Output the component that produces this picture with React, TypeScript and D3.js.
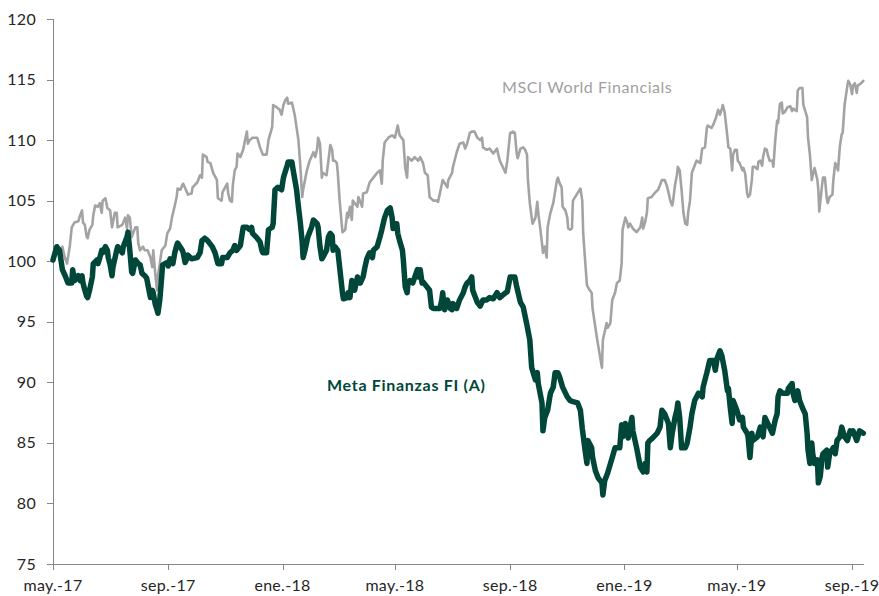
import React from 'react';
import * as d3 from 'd3';

// Series as [days since 2017-05-01, index value]
const msciSeries: [number, number][] = [
  [0,100.1],[4,100.9],[7,100.7],[10,101.2],[13,100.2],[15,99.8],[18,101.3],[20,102.8],[23,103.2],[27,103.3],
  [29,103.8],[31,104.2],[32,103.2],[34,103.0],[36,102.0],[37,101.9],[39,102.6],[42,103.0],[43,103.8],[45,104.6],
  [48,104.5],[50,104.8],[52,104.0],[53,105.0],[56,105.2],[58,104.4],[61,104.2],[63,102.8],[66,104.0],[68,104.0],
  [69,102.8],[74,103.0],[77,103.6],[79,102.7],[80,103.8],[82,103.6],[84,102.0],[88,102.8],[90,102.8],[91,101.5],
  [93,100.9],[96,101.2],[98,100.9],[101,100.9],[104,100.3],[106,99.5],[107,100.9],[109,99.1],[111,97.6],[112,98.8],
  [114,99.8],[116,100.9],[120,101.3],[122,102.3],[125,102.7],[127,103.6],[130,104.6],[132,105.3],[133,106.0],[136,105.9],
  [138,106.3],[139,106.4],[143,105.7],[144,105.5],[148,105.6],[149,106.1],[154,106.5],[157,107.1],[159,106.9],[160,108.8],
  [164,108.6],[165,108.2],[168,108.1],[171,107.3],[175,106.7],[176,105.2],[180,105.0],[181,105.7],[186,106.4],[187,105.6],
  [189,105.0],[191,104.9],[192,106.3],[194,107.5],[196,107.8],[197,108.9],[200,108.6],[203,109.2],[205,110.0],[207,110.7],
  [208,109.7],[210,110.0],[213,110.2],[218,110.2],[221,109.4],[224,108.8],[228,108.8],[230,110.0],[234,111.1],[235,112.9],
  [239,112.7],[242,112.5],[244,112.1],[246,112.9],[248,113.3],[250,113.5],[251,113.0],[255,113.1],[258,112.1],[262,110.0],
  [264,107.9],[266,105.3],[267,105.9],[271,107.5],[274,108.3],[278,109.0],[280,108.6],[282,109.3],[283,110.2],[285,109.7],
  [287,106.9],[288,107.3],[292,107.1],[294,108.3],[296,109.6],[298,109.2],[299,108.3],[301,108.3],[303,108.1],[304,107.3],
  [306,105.0],[309,102.4],[312,102.6],[314,104.0],[315,103.6],[317,104.5],[319,103.4],[320,105.0],[325,104.5],[326,105.3],
  [330,104.5],[331,105.6],[335,105.7],[338,106.5],[342,106.9],[346,107.3],[349,107.5],[351,106.4],[352,108.3],[354,109.8],
  [358,110.2],[362,110.4],[365,110.2],[368,111.2],[370,110.4],[374,110.0],[376,107.7],[378,106.9],[379,108.6],[383,108.3],
  [386,108.6],[390,108.3],[392,108.6],[395,108.1],[397,107.3],[400,107.1],[402,105.3],[406,105.0],[410,105.0],[411,104.9],
  [413,105.6],[416,106.7],[421,106.1],[422,106.7],[426,107.3],[427,107.8],[431,109.0],[434,109.7],[438,109.8],[440,109.3],
  [442,109.7],[445,110.6],[447,110.7],[450,110.7],[453,110.2],[456,110.0],[458,110.2],[459,109.4],[463,109.2],[466,109.3],
  [470,108.9],[474,109.3],[475,108.9],[477,108.3],[480,107.8],[483,107.3],[485,108.3],[488,110.6],[491,110.7],[493,110.6],
  [495,108.9],[496,108.5],[499,109.3],[502,109.4],[504,109.2],[506,108.8],[507,106.7],[509,104.8],[511,103.6],[512,103.1],
  [515,103.6],[517,104.9],[518,104.0],[520,102.8],[522,101.5],[523,100.7],[525,101.2],[527,100.3],[528,102.8],[531,104.0],
  [534,104.8],[538,106.7],[539,106.9],[541,106.4],[543,106.1],[544,104.5],[547,104.2],[549,103.6],[550,102.7],[552,102.6],
  [554,102.7],[555,105.0],[559,105.5],[563,106.0],[565,105.0],[566,102.3],[568,100.1],[570,98.0],[573,97.6],[575,97.4],
  [576,96.1],[581,93.5],[584,92.1],[586,91.2],[587,93.5],[591,94.9],[592,94.5],[595,94.9],[597,96.8],[600,97.4],
  [602,98.2],[605,98.4],[607,99.8],[608,102.6],[611,103.6],[613,103.2],[614,102.8],[616,103.1],[619,102.7],[623,102.4],
  [627,102.8],[629,103.6],[630,102.7],[632,103.2],[634,104.0],[635,105.2],[639,105.3],[643,105.7],[646,105.9],[648,106.3],
  [650,106.7],[653,106.7],[655,106.3],[657,105.7],[659,105.0],[661,104.6],[662,105.0],[664,106.3],[666,107.1],[667,107.8],
  [669,107.5],[671,105.9],[673,104.0],[675,103.1],[677,103.0],[678,104.0],[680,105.0],[682,107.3],[685,107.9],[687,108.3],
  [691,108.1],[693,109.3],[696,109.4],[698,111.0],[699,111.2],[703,111.0],[705,111.3],[707,111.7],[709,112.2],[710,112.5],
  [712,112.1],[714,112.6],[715,112.9],[717,112.3],[720,110.2],[721,109.4],[723,109.3],[725,107.5],[726,108.8],[728,109.2],
  [730,109.2],[731,108.3],[733,108.1],[736,107.5],[737,107.7],[739,107.2],[741,105.6],[742,105.3],[744,105.5],[746,106.7],
  [747,107.8],[749,107.8],[752,107.6],[753,108.2],[755,108.3],[757,107.9],[758,108.6],[760,109.3],[762,109.2],[763,108.8],
  [765,108.3],[768,108.3],[769,107.8],[771,110.0],[773,111.6],[774,111.4],[776,113.0],[778,113.1],[779,112.2],[781,112.3],
  [784,112.7],[787,112.8],[789,112.4],[790,112.6],[794,112.4],[795,114.1],[797,114.3],[800,114.3],[801,112.9],[805,111.9],
  [806,110.2],[808,108.8],[810,106.7],[811,107.1],[813,107.7],[816,106.7],[817,105.9],[818,104.1],[821,106.3],[822,106.9],
  [824,106.9],[826,105.2],[827,104.8],[829,105.3],[832,105.5],[833,106.7],[835,108.1],[837,107.8],[838,107.5],[840,109.5],
  [842,110.5],[843,110.6],[845,112.9],[848,114.5],[849,114.9],[851,114.6],[853,113.8],[854,114.5],[856,114.7],[858,113.9],
  [859,114.5],[861,114.6],[864,114.8],[865,114.9],
];

const metaSeries: [number, number][] = [
  [0,100.1],[4,101.2],[7,100.9],[10,99.3],[13,98.8],[16,98.2],[20,98.2],[21,99.3],[23,98.4],[27,98.8],
  [29,98.4],[31,98.8],[32,98.2],[34,97.6],[36,97.1],[37,97.0],[39,97.6],[42,98.7],[43,99.8],[47,100.1],
  [48,99.8],[50,100.3],[52,100.9],[53,100.7],[56,101.2],[58,100.9],[59,100.3],[61,99.7],[63,98.8],[64,99.5],
  [68,100.9],[69,101.2],[74,100.7],[75,101.2],[79,102.0],[80,102.4],[82,100.9],[84,99.1],[85,99.0],[88,100.1],
  [91,99.8],[93,99.7],[95,99.0],[98,98.8],[100,98.6],[101,98.2],[104,97.0],[106,97.6],[107,97.4],[109,96.5],
  [111,96.0],[112,95.7],[114,96.8],[116,98.7],[117,99.7],[122,99.9],[123,99.6],[125,100.2],[127,99.9],[128,99.8],
  [130,100.7],[132,101.3],[133,101.5],[138,100.9],[139,100.7],[141,99.9],[143,100.2],[144,100.5],[148,100.2],[154,100.3],
  [157,100.7],[159,101.7],[162,101.9],[165,101.7],[170,101.2],[173,100.7],[176,99.8],[180,99.8],[181,100.3],[186,100.3],
  [189,100.7],[192,100.9],[194,101.3],[196,100.9],[200,101.3],[202,102.3],[203,102.8],[207,102.8],[210,102.6],[212,102.8],
  [213,102.3],[218,101.9],[221,101.6],[223,100.9],[224,100.7],[228,100.7],[230,102.6],[234,102.8],[235,103.1],[237,105.9],
  [240,106.1],[244,105.9],[246,106.9],[250,107.9],[251,108.2],[255,108.2],[256,107.7],[260,105.9],[262,104.5],[264,103.2],
  [266,101.6],[267,100.3],[269,100.9],[272,102.0],[276,102.8],[278,103.4],[282,103.1],[283,102.8],[285,101.2],[287,100.2],
  [288,100.3],[292,100.9],[294,102.0],[296,102.3],[298,102.1],[299,100.9],[301,101.2],[304,100.9],[306,99.5],[309,97.4],
  [310,96.9],[314,97.0],[315,97.4],[317,97.0],[319,98.4],[320,98.2],[322,97.6],[325,98.7],[328,98.2],[331,98.7],
  [333,99.5],[335,100.2],[338,100.7],[341,100.3],[342,100.9],[346,101.2],[349,102.0],[351,102.6],[354,103.6],[357,104.2],
  [360,104.4],[362,103.6],[363,102.7],[365,103.1],[367,103.1],[368,102.3],[370,101.7],[373,100.9],[374,100.1],[376,97.9],
  [378,97.4],[379,98.2],[381,98.4],[384,98.2],[389,99.3],[390,98.7],[392,99.3],[394,98.2],[395,98.3],[399,97.9],
  [402,97.6],[404,96.2],[406,96.1],[410,96.1],[413,96.1],[415,96.8],[416,97.4],[418,96.0],[421,96.8],[424,96.1],
  [426,96.0],[427,96.5],[431,96.1],[434,96.8],[438,97.4],[440,97.9],[442,98.2],[445,98.4],[447,98.7],[448,97.6],
  [453,96.6],[456,96.3],[459,96.8],[463,96.8],[466,97.0],[470,96.9],[474,97.4],[477,97.0],[480,97.2],[485,97.5],
  [488,98.7],[491,98.7],[493,98.7],[495,97.9],[499,96.6],[502,96.2],[506,94.7],[509,93.5],[511,91.2],[515,90.2],
  [517,90.8],[518,89.9],[520,89.1],[522,88.3],[523,86.0],[525,87.1],[528,87.7],[531,89.1],[534,89.6],[536,90.8],
  [539,90.8],[541,90.4],[544,89.6],[549,88.8],[552,88.5],[555,88.4],[560,88.3],[563,87.7],[565,86.2],[568,84.4],
  [570,83.3],[571,85.2],[575,84.6],[576,83.8],[579,82.7],[582,82.1],[586,81.7],[587,80.7],[589,81.9],[592,82.5],
  [597,83.8],[600,84.6],[605,84.6],[607,86.5],[608,85.5],[611,86.6],[613,85.8],[614,85.4],[618,87.1],[619,86.0],
  [623,84.6],[627,83.0],[630,82.6],[632,83.3],[634,82.6],[635,85.0],[637,85.2],[640,85.4],[645,85.8],[648,86.3],
  [650,87.7],[653,87.4],[657,86.6],[659,84.6],[661,85.8],[664,87.1],[666,87.7],[667,88.3],[669,87.1],[671,84.6],
  [675,84.6],[677,85.0],[680,86.3],[682,87.4],[685,88.5],[689,89.1],[693,88.8],[694,89.6],[698,90.8],[701,91.8],
  [705,91.8],[707,91.0],[709,92.0],[712,92.6],[714,92.2],[717,91.0],[720,89.3],[721,89.5],[723,87.9],[725,86.6],
  [726,88.5],[730,87.7],[733,86.9],[736,87.1],[737,86.3],[741,85.8],[742,85.5],[744,83.8],[746,85.8],[747,85.2],
  [752,85.5],[755,86.3],[758,85.5],[760,87.1],[763,86.6],[768,85.8],[771,86.9],[773,87.4],[774,88.8],[776,89.3],
  [779,89.1],[784,89.1],[785,89.5],[789,89.9],[790,89.1],[792,88.5],[795,89.3],[797,88.5],[800,87.9],[803,87.4],
  [805,85.8],[806,84.4],[808,83.3],[810,85.0],[811,84.1],[813,83.3],[816,83.6],[817,81.7],[819,82.2],[821,83.8],
  [822,84.1],[826,84.4],[827,83.0],[829,84.1],[833,84.6],[835,84.1],[837,85.2],[840,85.5],[842,86.3],[845,85.5],
  [848,85.2],[851,86.0],[853,85.8],[854,86.0],[858,85.2],[861,86.0],[865,85.8],
];

const yTicks = [75, 80, 85, 90, 95, 100, 105, 110, 115, 120];
const monthsEs = ['ene.', 'feb.', 'mar.', 'abr.', 'may.', 'jun.', 'jul.', 'ago.', 'sep.', 'oct.', 'nov.', 'dic.'];
const msciLabel = 'MSCI World Financials';
const metaLabel = 'Meta Finanzas FI (A)';

export default function App() {
  const W = 879;
  const H = 596;
  const start = new Date(Date.UTC(2017, 4, 1));
  const end = d3.utcDay.offset(start, 865);
  const x = d3.scaleUtc().domain([start, end]).range([53, 863.3]);
  const y = d3.scaleLinear().domain([75, 120]).range([564, 19]);
  const toX = (d: number) => x(d3.utcDay.offset(start, d));
  const line = d3
    .line<[number, number]>()
    .x((d) => toX(d[0]))
    .y((d) => y(d[1]));
  const xTicks = x.ticks(d3.utcMonth.every(4) as any);
  const fmt = (d: Date) => `${monthsEs[d.getUTCMonth()]}-${String(d.getUTCFullYear()).slice(2)}`;
  const font = 'Lato, Carlito, Calibri, sans-serif';
  const axisColor = '#868686';
  const textColor = '#262626';

  return (
    <div style={{ position: 'absolute', left: 0, top: 0 }}>
      <svg width={W} height={H} style={{ display: 'block', background: '#fff' }}>
        <rect x={0} y={0} width={W} height={H} fill="#fff" />
        {/* axes */}
        <g shapeRendering="crispEdges" stroke={axisColor} strokeWidth={1}>
          <line x1={53.5} x2={53.5} y1={y(120)} y2={y(75)} />
          <line x1={53} x2={863.5} y1={564.5} y2={564.5} />
          {yTicks.map((t) => (
            <line key={t} x1={47} x2={53.5} y1={Math.round(y(t)) + 0.5} y2={Math.round(y(t)) + 0.5} />
          ))}
          {xTicks.map((t) => (
            <line key={+t} x1={Math.round(x(t)) + 0.5} x2={Math.round(x(t)) + 0.5} y1={564.5} y2={570} />
          ))}
        </g>
        {yTicks.map((t) => (
          <text key={t} x={36} y={y(t) + 5.5} textAnchor="end" fontFamily={font} fontSize={16} letterSpacing={0.3} fill={textColor}>
            {t}
          </text>
        ))}
        {xTicks.map((t) => (
          <text key={+t} x={x(t)} y={591} textAnchor="middle" fontFamily={font} fontSize={16} letterSpacing={0.3} fill={textColor}>
            {fmt(t)}
          </text>
        ))}
        {/* series */}
        <path d={line(msciSeries) || ''} fill="none" stroke="#A3A3A3" strokeWidth={2.6} strokeLinejoin="round" strokeLinecap="round" />
        <path d={line(metaSeries) || ''} fill="none" stroke="#00473A" strokeWidth={5.5} strokeLinejoin="round" strokeLinecap="round" />
        {/* labels */}
        <text x={502} y={93} fontFamily={font} fontSize={16} letterSpacing={0.55} fill="#A0A0A0">
          {msciLabel}
        </text>
        <text x={327} y={391} fontFamily={font} fontSize={16} fontWeight="bold" letterSpacing={0.7} fill="#00473A">
          {metaLabel}
        </text>
      </svg>
    </div>
  );
}
